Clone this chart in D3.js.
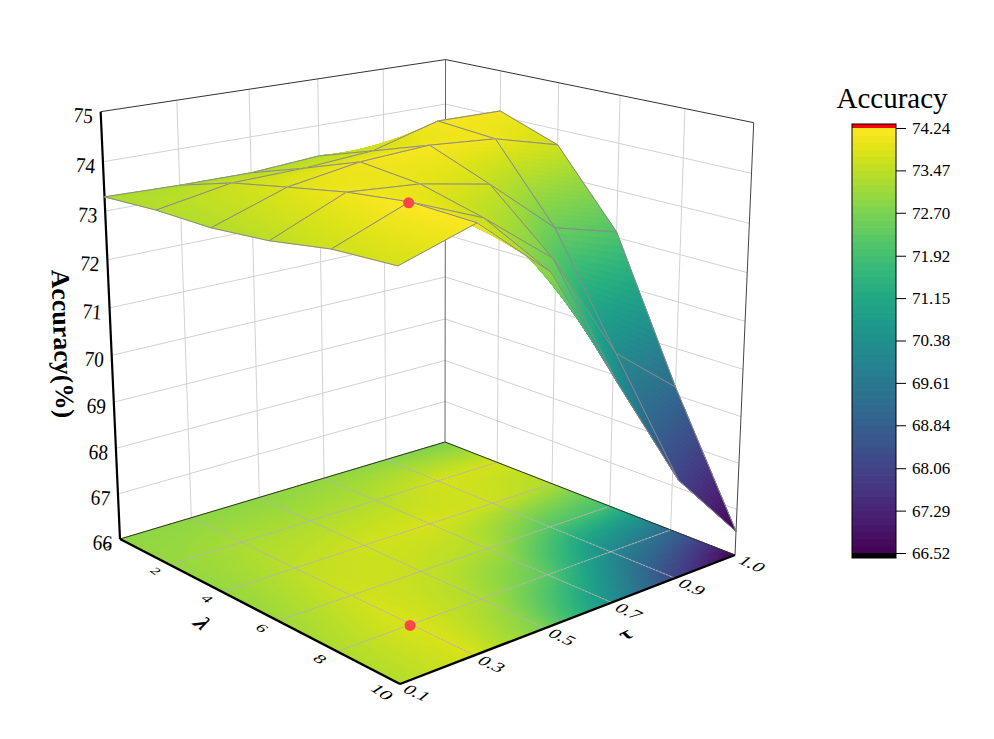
<!DOCTYPE html>
<html><head><meta charset="utf-8">
<script src="https://cdn.jsdelivr.net/npm/d3@7"></script>
<style>html,body{margin:0;padding:0;background:#fff}svg{display:block}text{font-family:"Liberation Serif",serif;fill:#000}</style>
</head><body><div id="c"></div>
<script>
// ---- data ----
const tauLabels = ["0.1","0.3","0.5","0.7","0.9","1.0"];
const lambdaValues = [0,2,4,6,8,10];
const zTicks = [66,67,68,69,70,71,72,73,74,75];
const legendTicks = ["74.24","73.47","72.70","71.92","71.15","70.38","69.61","68.84","68.06","67.29","66.52"];
const acc_tau01 = [73.29,73.36,73.36,73.47,73.68,73.75];
const acc_tau03 = [73.25,73.62,73.86,74.09,74.24,74.20];
const acc_tau05 = [73.24,73.65,74.09,73.97,73.65,72.99];
const acc_tau07 = [73.34,73.75,74.17,73.69,72.56,70.50];
const acc_tau09 = [73.19,74.14,74.05,72.51,70.28,68.09];
const acc_tau10 = [73.00,74.12,73.67,72.12,69.17,66.52];
const accuracy = [acc_tau01,acc_tau03,acc_tau05,acc_tau07,acc_tau09,acc_tau10];
const best = {tau:"0.3",lambda:8,acc:74.24};

const W=994,H=739;
const svg=d3.select("#c").append("svg").attr("width",W).attr("height",H);

// ---- scales ----
const sScale=d3.scalePoint().domain(tauLabels).range([0,1]);
const tScale=d3.scaleLinear().domain([0,10]).range([0,1]);
const rScale=d3.scaleLinear().domain([66,75]).range([0,1]);
const color=d3.scaleSequential(d3.interpolateViridis).domain([66.52,74.24]).clamp(true);
// the floor projection renders a little darker towards the top of the map
const floorColor=v=>color(v-0.4*Math.max(0,(v-69)/5));

// ---- camera calibrated on the box corners ----
const P=[[120,539],[445,442],[735,555],[400,684]];      // floor: left, back, right, front
const T=[[101,113],[445,59],[754,122]];                 // top: left, back, right
const [x0,y0]=P[0],[x1,y1]=P[1],[x2,y2]=P[2],[x3,y3]=P[3];
const dx1=x1-x2,dx2=x3-x2,sx=x0-x1+x2-x3,dy1=y1-y2,dy2=y3-y2,sy=y0-y1+y2-y3;
const den=dx1*dy2-dx2*dy1;
const g=(sx*dy2-dx2*sy)/den,h=(dx1*sy-sx*dy1)/den;
const a=x1-x0+g*x1,b=x3-x0+h*x3,c=x0,d=y1-y0+g*y1,e=y3-y0+h*y3,f=y0;
const st=[[0,0],[1,0],[1,1]];
let A=[[0,0,0],[0,0,0],[0,0,0]],B=[0,0,0];
function addEq(r,y){for(let i=0;i<3;i++){B[i]+=r[i]*y;for(let j=0;j<3;j++)A[i][j]+=r[i]*r[j];}}
st.forEach(([s,t],k)=>{const w=g*s+h*t+1,X=T[k][0],Y=T[k][1];
  addEq([1,0,-X],X*w-(a*s+b*t+c));
  addEq([0,1,-Y],Y*w-(d*s+e*t+f));});
function det3(m){return m[0][0]*(m[1][1]*m[2][2]-m[1][2]*m[2][1])-m[0][1]*(m[1][0]*m[2][2]-m[1][2]*m[2][0])+m[0][2]*(m[1][0]*m[2][1]-m[1][1]*m[2][0]);}
const D=det3(A);
const [p,v,q]=[0,1,2].map(k=>det3(A.map((row,i)=>row.map((vv,j)=>j===k?B[i]:vv)))/D);
function proj(s,t,r){const w=g*s+h*t+q*r+1;return [(a*s+b*t+p*r+c)/w,(d*s+e*t+v*r+f)/w];}

const line=d3.line();
// ---- walls ----
const wall=svg.append("g").attr("fill","none").attr("stroke","#d2d2d2").attr("stroke-width",1);
zTicks.slice(1,-1).forEach(z=>{const r=rScale(z);
  wall.append("path").attr("d",line([proj(0,0,r),proj(1,0,r),proj(1,1,r)]));});
tauLabels.slice(1,-1).forEach(l=>{const s=sScale(l);
  wall.append("path").attr("d",line([proj(s,0,0),proj(s,0,1)]));});
lambdaValues.slice(1,-1).forEach(l=>{const t=tScale(l);
  wall.append("path").attr("d",line([proj(1,t,0),proj(1,t,1)]));});

const n=20, nI=tauLabels.length, nJ=lambdaValues.length;
function val(i,j,u,w){const A=accuracy[i][j],B=accuracy[i+1][j],C=accuracy[i][j+1],E=accuracy[i+1][j+1];
  return A*(1-u)*(1-w)+B*u*(1-w)+C*(1-u)*w+E*u*w;}
function sAt(i,u){return sScale(tauLabels[i])+(sScale(tauLabels[i+1])-sScale(tauLabels[i]))*u;}
function tAt(j,w){return tScale(lambdaValues[j])+(tScale(lambdaValues[j+1])-tScale(lambdaValues[j]))*w;}
function drawSheet(gr,flat,meshColor,meshW,dash){
  const cfn=flat?floorColor:color;
  for(let i=nI-2;i>=0;i--)for(let j=0;j<nJ-1;j++){
    for(let a1=n-1;a1>=0;a1--)for(let b1=0;b1<n;b1++){
      const corners=[[a1,b1],[a1+1,b1],[a1+1,b1+1],[a1,b1+1]].map(([m,o])=>{
        const u=m/n,w=o/n,z=val(i,j,u,w);
        return proj(sAt(i,u),tAt(j,w),flat?0:rScale(z));});
      const col=cfn(val(i,j,(a1+.5)/n,(b1+.5)/n));
      gr.append("path").attr("d",line(corners)+"Z").attr("fill",col).attr("stroke",col).attr("stroke-width",1).attr("stroke-linejoin","round");
    }
    if(!flat){
      const cs=[[i,j],[i+1,j],[i+1,j+1],[i,j+1]].map(([m,o])=>proj(sScale(tauLabels[m]),tScale(lambdaValues[o]),rScale(accuracy[m][o])));
      gr.append("path").attr("d",line(cs)+"Z").attr("fill","none").attr("stroke",meshColor).attr("stroke-width",meshW);
    }
  }
  if(flat){
    for(let i=1;i<nI-1;i++)gr.append("path").attr("d",line([proj(sScale(tauLabels[i]),0,0),proj(sScale(tauLabels[i]),1,0)])).attr("fill","none").attr("stroke",meshColor).attr("stroke-width",meshW).attr("stroke-dasharray",dash);
    for(let j=1;j<nJ-1;j++)gr.append("path").attr("d",line([proj(0,tScale(lambdaValues[j]),0),proj(1,tScale(lambdaValues[j]),0)])).attr("fill","none").attr("stroke",meshColor).attr("stroke-width",meshW).attr("stroke-dasharray",dash);
  }
}
drawSheet(svg.append("g"),true,"#b4b4b4",1,"3,0.6");

// ---- box frame ----
const frame=svg.append("g").attr("fill","none");
function seg(aa,bb,col,w){frame.append("path").attr("d",line([aa,bb])).attr("stroke",col).attr("stroke-width",w);}
seg(proj(1,0,0),proj(1,0,1),"#666",1);
seg(proj(0,0,1),proj(1,0,1),"#333",1);
seg(proj(1,0,1),proj(1,1,1),"#333",1);
seg(proj(1,1,0),proj(1,1,1),"#444",1);
seg(proj(0,0,0),proj(1,0,0),"#333",1);
seg(proj(1,0,0),proj(1,1,0),"#333",1);
seg(proj(0,0,0),proj(0,1,0),"#000",2.4);
seg(proj(0,1,0),proj(1,1,0),"#000",2.4);
seg(proj(0,0,0),proj(0,0,1),"#000",2.2);

drawSheet(svg.append("g"),false,"#8a8a8a",1);

// ---- best point, on surface and floor ----
const bs=sScale(best.tau),bt=tScale(best.lambda);
[proj(bs,bt,rScale(best.acc)),proj(bs,bt,0)].forEach(pt=>{
  svg.append("circle").attr("cx",pt[0]-1).attr("cy",pt[1]+1).attr("r",5.5).attr("fill","#ff4646");});

// ---- tick labels ----
const lab=svg.append("g");
zTicks.forEach(z=>{const pt=proj(0,0,rScale(z));
  lab.append("text").attr("transform",`translate(${pt[0]-18},${pt[1]+11}) rotate(4) scale(.97,1.08)`)
    .attr("text-anchor","middle").attr("font-size",20).text(z);});
lambdaValues.forEach(l=>{const pt=proj(0,tScale(l),0),k=tScale(l);
  lab.append("text").attr("transform",`translate(${pt[0]-13-5*k},${pt[1]+6+2*k}) rotate(35) skewX(-22) scale(1,.72)`)
    .attr("text-anchor","middle").attr("dominant-baseline","central").attr("font-size",14+7*k).text(l);});
tauLabels.forEach(l=>{const pt=proj(sScale(l),1,0);
  lab.append("text").attr("transform",`translate(${pt[0]+17},${pt[1]+9}) rotate(25) skewX(-25) scale(1,.75)`)
    .attr("text-anchor","middle").attr("dominant-baseline","central").attr("font-size",20).text(l);});
lab.append("text").attr("transform","translate(203,623) rotate(35) skewX(-20) scale(1,.8)").attr("text-anchor","middle").attr("dominant-baseline","central")
  .attr("font-size",26).attr("font-weight","bold").attr("font-style","italic").text("λ");
lab.append("text").attr("transform","translate(625,634) rotate(-25) skewX(20) scale(1,.8)").attr("text-anchor","middle").attr("dominant-baseline","central")
  .attr("font-size",23).attr("font-weight","bold").text("τ");
lab.append("text").attr("transform","translate(54,344) rotate(88)").attr("text-anchor","middle")
  .attr("font-size",26).attr("font-weight","bold").text("Accuracy(%)");

// ---- colour bar ----
const legendVals=legendTicks.map(Number);
const yL=d3.scaleLinear().domain([66.52,74.24]).range([553,128]);
const barX=852,barW=44;
const leg=svg.append("g");
d3.range(0,60).forEach(k=>{const v0=66.52+(74.24-66.52)*k/60,v1=66.52+(74.24-66.52)*(k+1)/60;
  leg.append("rect").attr("x",barX).attr("width",barW).attr("y",yL(v1)).attr("height",yL(v0)-yL(v1)+.7).attr("fill",color((v0+v1)/2));});
leg.append("rect").attr("x",barX).attr("width",barW).attr("y",124).attr("height",4).attr("fill","#f00");
leg.append("rect").attr("x",barX).attr("width",barW).attr("y",553).attr("height",5).attr("fill","#000");
leg.append("rect").attr("x",barX).attr("width",barW).attr("y",124).attr("height",434).attr("fill","none").attr("stroke","#000").attr("stroke-width",1);
const ax=d3.axisRight(yL).tickValues(legendVals).tickSize(10).tickPadding(6).tickFormat((d,i)=>legendTicks[i]);
const axg=svg.append("g").attr("transform",`translate(${barX+barW},0)`).call(ax);
axg.select(".domain").remove();
axg.selectAll("line").attr("stroke","#000").attr("stroke-width",1);
axg.selectAll("text").attr("font-size",17).attr("fill","#000").style("font-family",'"Liberation Serif",serif');
svg.append("text").attr("x",892).attr("y",108).attr("text-anchor","middle").attr("font-size",29).text("Accuracy");
</script></body></html>
